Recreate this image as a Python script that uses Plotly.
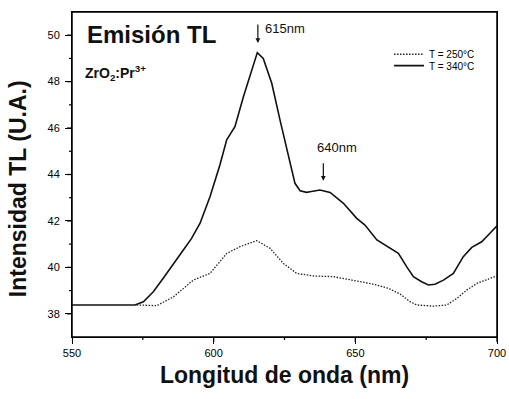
import plotly.graph_objects as go

# T = 340°C (solid)
x_340 = [550, 572.2, 575.2, 578.7, 582.2, 585.8, 589.3, 592.2, 595.2, 598.7, 602.2, 604.6,
         607.5, 610.5, 613.4, 615.4, 617.5, 620.5, 623.4, 626.4, 628.7, 630.5, 632.8, 634,
         637.5, 641.1, 645.8, 650.5, 653.4, 657.6, 661.6, 665.2, 668.1, 670.5, 673.4, 675.8,
         678.1, 681.1, 684.6, 688.1, 691.1, 694.6, 697.5, 700]
y_340 = [38.38, 38.38, 38.52, 38.95, 39.53, 40.17, 40.75, 41.25, 41.9, 43.04, 44.41, 45.49,
         46.06, 47.35, 48.5, 49.25, 49.0, 47.93, 46.35, 44.77, 43.62, 43.3, 43.23, 43.26,
         43.33, 43.23, 42.76, 42.11, 41.82, 41.18, 40.89, 40.6, 40.03, 39.6, 39.38, 39.24,
         39.27, 39.45, 39.74, 40.46, 40.86, 41.1, 41.47, 41.79]

# T = 250°C (dotted)
x_250 = [572.8, 579.9, 585.8, 592.8, 598.7, 604.6, 609.3, 615.2, 619.9, 624.6, 629.3, 634,
         635.2, 642.2, 649.3, 656.3, 661.6, 665.8, 669.3, 671.7, 677.5, 682.3, 685.8, 689.3,
         692.9, 696.4, 699.9]
y_250 = [38.38, 38.35, 38.73, 39.45, 39.74, 40.6, 40.89, 41.15, 40.82, 40.17, 39.74, 39.67,
         39.63, 39.6, 39.45, 39.28, 39.1, 38.85, 38.52, 38.38, 38.33, 38.38, 38.66, 39.02,
         39.31, 39.48, 39.63]

x_ticks = [550, 600, 650, 700]
x_minor = [575, 625, 675]
y_ticks = [38, 40, 42, 44, 46, 48, 50]
y_minor = [39, 41, 43, 45, 47, 49]

FONT = "Liberation Sans, Arial, sans-serif"
INK = "#000000"
W, H = 509, 399
M = dict(l=72, r=12, t=12, b=62)
PW = W - M["l"] - M["r"]
PH = H - M["t"] - M["b"]

fig = go.Figure()
fig.add_trace(go.Scatter(x=x_250, y=y_250, mode="lines", name="T = 250°C", legend="legend",
                         line=dict(color="#222222", width=1.3, dash="1.5px,1.5px")))
fig.add_trace(go.Scatter(x=x_340, y=y_340, mode="lines", name="T = 340°C", legend="legend2",
                         line=dict(color="#111111", width=1.6)))

fig.add_annotation(x=615.6, y=49.66, ax=0, ay=-20, axref="pixel", ayref="pixel",
                   showarrow=True, arrowhead=2, arrowsize=0.8, arrowwidth=1.2,
                   arrowcolor="#111", text="")
fig.add_annotation(x=617.5, y=50.27, text="615nm", showarrow=False, xanchor="left",
                   font=dict(family=FONT, size=13, color="#111"))
fig.add_annotation(x=638.7, y=43.73, ax=0, ay=-19, axref="pixel", ayref="pixel",
                   showarrow=True, arrowhead=2, arrowsize=0.8, arrowwidth=1.2,
                   arrowcolor="#111", text="")
fig.add_annotation(x=643.5, y=45.18, text="640nm", showarrow=False,
                   font=dict(family=FONT, size=13, color="#111"))
fig.add_annotation(x=554.6, y=50.05, text="<b>Emisión TL</b>", showarrow=False,
                   xanchor="left", font=dict(family=FONT, size=24, color="#111"))
fig.add_annotation(x=553.9, y=48.37, text="<b>ZrO<sub>2</sub>:Pr<sup>3+</sup></b>",
                   showarrow=False, xanchor="left",
                   font=dict(family=FONT, size=14, color="#111"))
# y-axis title (placed as in the reference, slightly below plot centre)
fig.add_annotation(xref="paper", yref="paper", x=-0.127, y=0.455, textangle=-90,
                   xanchor="center", yanchor="middle",
                   text="<b>Intensidad TL (U.A.)</b>", showarrow=False,
                   font=dict(family=FONT, size=23, color="#111"))

# plot frame
fig.add_shape(type="rect", xref="paper", yref="paper", x0=0, x1=1, y0=0, y1=1,
              line=dict(color=INK, width=1.5), fillcolor="rgba(0,0,0,0)", layer="above")

# tick marks (outside), placed at the axis tick values through the axis scales
for v in x_ticks:
    fig.add_shape(type="line", xref="x", yref="paper", x0=v, x1=v, y0=0, y1=-5 / PH,
                  line=dict(color=INK, width=1.3))
for v in x_minor:
    fig.add_shape(type="line", xref="x", yref="paper", x0=v, x1=v, y0=0, y1=-3 / PH,
                  line=dict(color=INK, width=1.2))
for v in y_ticks:
    fig.add_shape(type="line", xref="paper", yref="y", y0=v, y1=v, x0=0, x1=-5 / PW,
                  line=dict(color=INK, width=1.3))
for v in y_minor:
    fig.add_shape(type="line", xref="paper", yref="y", y0=v, y1=v, x0=0, x1=-3 / PW,
                  line=dict(color=INK, width=1.2))

leg_common = dict(xanchor="left", yanchor="middle", bgcolor="rgba(0,0,0,0)",
                  font=dict(size=10, family=FONT, color=INK), itemwidth=30,
                  borderwidth=0)

fig.update_layout(
    width=W, height=H,
    margin=M,
    paper_bgcolor="white", plot_bgcolor="white",
    font=dict(family=FONT, color=INK),
    showlegend=True,
    legend=dict(x=0.746, y=0.87, **leg_common),
    legend2=dict(x=0.746, y=0.835, **leg_common),
    xaxis=dict(range=[550, 700], tickmode="array", tickvals=x_ticks,
               ticks="outside", ticklen=6, tickwidth=1, tickcolor=INK,
               showline=True, linecolor=INK, linewidth=1,
               mirror=True, showgrid=False, zeroline=False, automargin=False,
               tickfont=dict(size=11, family=FONT, color=INK),
               title=dict(text="<b>Longitud de onda (nm)</b>",
                          font=dict(size=23, family=FONT, color="#111"), standoff=8)),
    yaxis=dict(range=[37, 51], tickmode="array", tickvals=y_ticks,
               ticks="outside", ticklen=6, tickwidth=1, tickcolor=INK,
               showline=True, linecolor=INK, linewidth=1,
               mirror=True, showgrid=False, zeroline=False, automargin=False,
               ticklabelstandoff=3,
               tickfont=dict(size=11, family=FONT, color=INK)),
)

fig.write_html("out.html", post_script="document.body.style.margin='0';",
               config={"displayModeBar": False})
